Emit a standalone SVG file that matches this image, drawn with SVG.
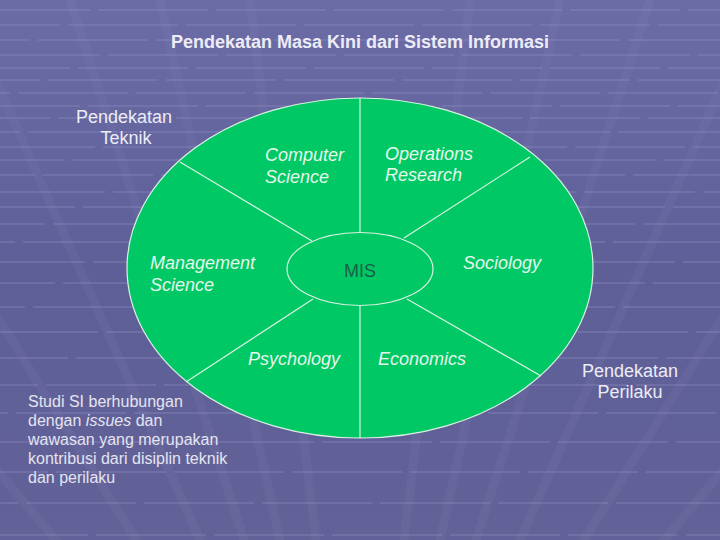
<svg xmlns="http://www.w3.org/2000/svg" width="720" height="540" viewBox="0 0 720 540">
<defs>
<linearGradient id="bg" x1="0" y1="0" x2="0" y2="1">
<stop offset="0" stop-color="#6b6ba6"/>
<stop offset="0.5" stop-color="#5f5f98"/>
<stop offset="1" stop-color="#626298"/>
</linearGradient>
</defs>
<style>
.hl{stroke:#9a9acc;stroke-width:2;opacity:0.26;stroke-dasharray:110 8}
.dg{stroke:#a0a0d0;stroke-width:9;opacity:0.08}
.t{font-family:"Liberation Sans",Arial,sans-serif;font-size:18px}
.w{fill:#ececf6}
.g{fill:#e6f7ec;font-style:italic}
.div{stroke:#d9f2e2;stroke-width:1.2;fill:none}
.body{font-family:"Liberation Sans",Arial,sans-serif;font-size:16px;fill:#e4e4f0}
</style>
<g id="background">
<rect width="720" height="540" fill="url(#bg)"/>
<g>
<line class="dg" x1="360" y1="900" x2="-400" y2="0"/>
<line class="dg" x1="360" y1="900" x2="-200" y2="0"/>
<line class="dg" x1="360" y1="900" x2="-40" y2="0"/>
<line class="dg" x1="360" y1="900" x2="70" y2="0"/>
<line class="dg" x1="360" y1="900" x2="160" y2="0"/>
<line class="dg" x1="360" y1="900" x2="250" y2="0"/>
<line class="dg" x1="360" y1="900" x2="470" y2="0"/>
<line class="dg" x1="360" y1="900" x2="560" y2="0"/>
<line class="dg" x1="360" y1="900" x2="650" y2="0"/>
<line class="dg" x1="360" y1="900" x2="760" y2="0"/>
<line class="dg" x1="360" y1="900" x2="920" y2="0"/>
<line class="dg" x1="360" y1="900" x2="1120" y2="0"/>
</g>
<g>
<line class="hl" x1="0" y1="10" x2="720" y2="10" stroke-dashoffset="20"/>
<line class="hl" x1="0" y1="25" x2="720" y2="25" stroke-dashoffset="50"/>
<line class="hl" x1="0" y1="40" x2="720" y2="40" stroke-dashoffset="80"/>
<line class="hl" x1="0" y1="55" x2="720" y2="55" stroke-dashoffset="10"/>
<line class="hl" x1="0" y1="68" x2="720" y2="68" stroke-dashoffset="40"/>
<line class="hl" x1="0" y1="80" x2="720" y2="80" stroke-dashoffset="70"/>
<line class="hl" x1="0" y1="93" x2="720" y2="93" stroke-dashoffset="100"/>
<line class="hl" x1="0" y1="106" x2="720" y2="106" stroke-dashoffset="30"/>
<line class="hl" x1="0" y1="118" x2="720" y2="118" stroke-dashoffset="60"/>
<line class="hl" x1="0" y1="132" x2="720" y2="132" stroke-dashoffset="90"/>
<line class="hl" x1="0" y1="147" x2="720" y2="147" stroke-dashoffset="15"/>
<line class="hl" x1="0" y1="160" x2="720" y2="160" stroke-dashoffset="45"/>
<line class="hl" x1="0" y1="175" x2="720" y2="175" stroke-dashoffset="75"/>
<line class="hl" x1="0" y1="192" x2="720" y2="192" stroke-dashoffset="5"/>
<line class="hl" x1="0" y1="207" x2="720" y2="207" stroke-dashoffset="35"/>
<line class="hl" x1="0" y1="224" x2="720" y2="224" stroke-dashoffset="65"/>
<line class="hl" x1="0" y1="242" x2="720" y2="242" stroke-dashoffset="95"/>
<line class="hl" x1="0" y1="262" x2="720" y2="262" stroke-dashoffset="25"/>
<line class="hl" x1="0" y1="283" x2="720" y2="283" stroke-dashoffset="55"/>
<line class="hl" x1="0" y1="307" x2="720" y2="307" stroke-dashoffset="85"/>
<line class="hl" x1="0" y1="332" x2="720" y2="332" stroke-dashoffset="12"/>
<line class="hl" x1="0" y1="358" x2="720" y2="358" stroke-dashoffset="42"/>
<line class="hl" x1="0" y1="385" x2="720" y2="385" stroke-dashoffset="72"/>
<line class="hl" x1="0" y1="413" x2="720" y2="413" stroke-dashoffset="102"/>
<line class="hl" x1="0" y1="442" x2="720" y2="442" stroke-dashoffset="32"/>
<line class="hl" x1="0" y1="472" x2="720" y2="472" stroke-dashoffset="62"/>
<line class="hl" x1="0" y1="503" x2="720" y2="503" stroke-dashoffset="92"/>
<line class="hl" x1="0" y1="535" x2="720" y2="535" stroke-dashoffset="22"/>
</g>
</g>
<text id="title" class="t w" x="360" y="48" text-anchor="middle" font-weight="bold">Pendekatan Masa Kini dari Sistem Informasi</text>
<g id="label-teknik">
<text class="t w" x="124" y="123" text-anchor="middle">Pendekatan</text>
<text class="t w" x="126" y="144" text-anchor="middle">Teknik</text>
</g>
<g id="label-perilaku">
<text class="t w" x="630" y="377" text-anchor="middle">Pendekatan</text>
<text class="t w" x="630" y="398" text-anchor="middle">Perilaku</text>
</g>
<g id="outer-ellipse">
<ellipse cx="360" cy="268" rx="233" ry="170" fill="#00c864" stroke="#d9f2e2" stroke-width="1.2"/>
</g>
<g id="connectors">
<line class="div" x1="360" y1="98" x2="360" y2="233"/>
<line class="div" x1="360" y1="305" x2="360" y2="438"/>
<line class="div" x1="180" y1="162" x2="312" y2="241"/>
<line class="div" x1="530" y1="157" x2="404" y2="238"/>
<line class="div" x1="186" y1="382" x2="313" y2="299"/>
<line class="div" x1="541" y1="376" x2="407" y2="299"/>
</g>
<g id="mis">
<ellipse cx="360" cy="269" rx="73" ry="36.5" fill="#00c864" stroke="#d9f2e2" stroke-width="1.2"/>
<text class="t" x="360" y="277" text-anchor="middle" fill="#1a6048">MIS</text>
</g>
<g id="computer-science">
<text class="t g" x="265" y="161">Computer</text>
<text class="t g" x="265" y="183">Science</text>
</g>
<g id="operations-research">
<text class="t g" x="385" y="160">Operations</text>
<text class="t g" x="385" y="181">Research</text>
</g>
<g id="management-science">
<text class="t g" x="150" y="269">Management</text>
<text class="t g" x="150" y="291">Science</text>
</g>
<g id="sociology">
<text class="t g" x="463" y="269">Sociology</text>
</g>
<g id="psychology">
<text class="t g" x="248" y="365">Psychology</text>
</g>
<g id="economics">
<text class="t g" x="378" y="365">Economics</text>
</g>
<g id="note">
<text class="body" x="28" y="407">Studi SI berhubungan</text>
<text class="body" x="28" y="426">dengan <tspan font-style="italic">issues</tspan> dan</text>
<text class="body" x="28" y="445">wawasan yang merupakan</text>
<text class="body" x="28" y="464">kontribusi dari disiplin teknik</text>
<text class="body" x="28" y="483">dan perilaku</text>
</g>
</svg>
